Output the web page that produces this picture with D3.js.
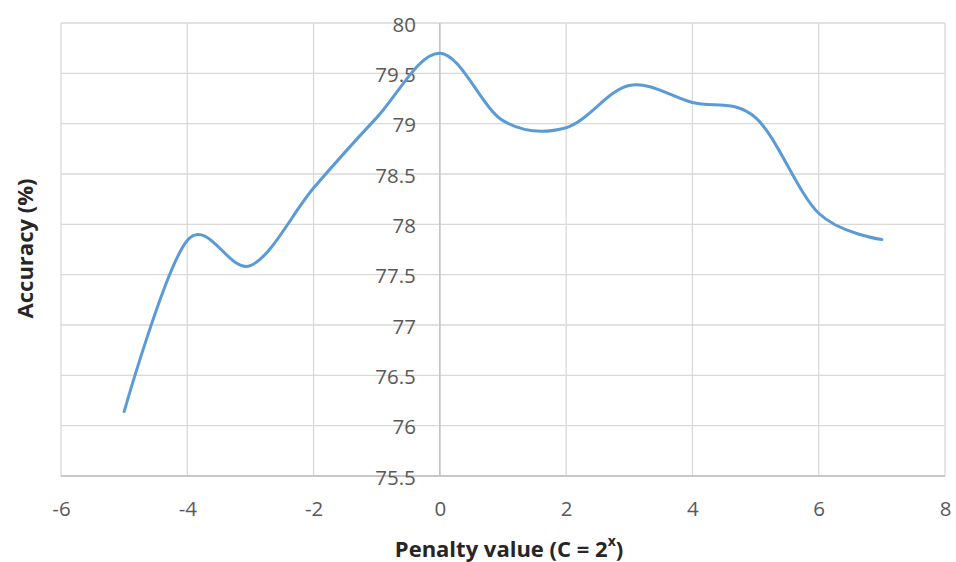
<!DOCTYPE html>
<html><head><meta charset="utf-8">
<script src="https://cdn.jsdelivr.net/npm/d3@7"></script>
<style>body{margin:0;background:#fff}svg{display:block}</style>
</head><body>
<script>
const xValues = [-5,-4,-3,-2,-1,0,1,2,3,4,5,6,7];
const accuracy = [76.14,77.84,77.59,78.36,79.06,79.70,79.03,78.96,79.38,79.21,79.06,78.11,77.85];
const xTicks = [-6,-4,-2,0,2,4,6,8];
const yTicks = [75.5,76,76.5,77,77.5,78,78.5,79,79.5,80];

const W=956,H=562;
const m={l:61,r:11,t:23,b:86};
const svg=d3.select("body").append("svg").attr("width",W).attr("height",H);
const x=d3.scaleLinear().domain([-6,8]).range([m.l,W-m.r]);
const y=d3.scaleLinear().domain([75.5,80]).range([H-m.b,m.t]);
const font="'Open Sans', sans-serif";

// gridlines
svg.append("g").selectAll("line").data(yTicks).join("line")
 .attr("x1",x(-6)).attr("x2",x(8)).attr("y1",d=>y(d)).attr("y2",d=>y(d))
 .attr("stroke","#d9d9d9").attr("stroke-width",1.3);
svg.append("g").selectAll("line").data(xTicks).join("line")
 .attr("x1",d=>x(d)).attr("x2",d=>x(d)).attr("y1",y(80)).attr("y2",y(75.5))
 .attr("stroke","#d9d9d9").attr("stroke-width",1.3);
// axes lines
svg.append("line").attr("x1",x(-6)).attr("x2",x(8)).attr("y1",y(75.5)).attr("y2",y(75.5)).attr("stroke","#bfbfbf").attr("stroke-width",1.3);
svg.append("line").attr("x1",x(0)).attr("x2",x(0)).attr("y1",y(80)).attr("y2",y(75.5)).attr("stroke","#bfbfbf").attr("stroke-width",1.3);

// x tick labels
const xa=d3.axisBottom(x).tickValues(xTicks).tickSize(0).tickPadding(0).tickFormat(d=>String(d));
const gx=svg.append("g").attr("transform",`translate(0,${y(75.5)})`).call(xa);
gx.select(".domain").remove();
gx.selectAll("text").attr("dy",null).attr("y",32).attr("dominant-baseline","central")
 .attr("font-family",font).attr("font-size",20.5).attr("fill","#595959");

// y tick labels at x=0
const ya=d3.axisLeft(y).tickValues(yTicks).tickSize(0).tickPadding(0).tickFormat(d=>String(d));
const gy=svg.append("g").attr("transform",`translate(${x(0)-24},0)`).call(ya);
gy.select(".domain").remove();
gy.selectAll("text").attr("dy",null).attr("x",0).attr("dominant-baseline","central")
 .attr("font-family",font).attr("font-size",20.5).attr("fill","#595959");

// line
const line=d3.line().x((d,i)=>x(xValues[i])).y(d=>y(d)).curve(d3.curveCatmullRom.alpha(0));
svg.append("path").datum(accuracy).attr("d",line).attr("fill","none")
 .attr("stroke","#5b9bd5").attr("stroke-width",3).attr("stroke-linecap","round");

// titles
const xt=svg.append("text").attr("x",509).attr("y",548).attr("text-anchor","middle").attr("dominant-baseline","central")
 .attr("font-family",font).attr("font-weight","bold").attr("font-size",22).attr("fill","#262626");
xt.append("tspan").text("Penalty value (C = 2");
xt.append("tspan").attr("font-size",14).attr("dy",-8).text("x");
xt.append("tspan").attr("dy",8).text(")");
svg.append("text").attr("transform",`translate(24,${(y(80)+y(75.5))/2 - 1}) rotate(-90)`)
 .attr("text-anchor","middle").attr("dominant-baseline","central")
 .attr("font-family",font).attr("font-weight","bold").attr("font-size",22).attr("fill","#262626")
 .text("Accuracy (%)");
</script>
</body></html>
